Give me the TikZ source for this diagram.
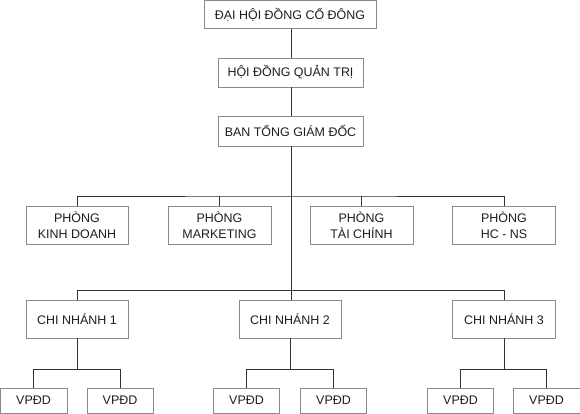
\documentclass[tikz,border=0pt]{standalone}
\usepackage{fontspec}
\setmainfont{Liberation Sans}
\definecolor{boxline}{HTML}{8A8A8A}
\definecolor{conline}{HTML}{333333}
\definecolor{txt}{HTML}{1E1E1E}
\tikzset{
  orgbox/.style={draw=boxline, line width=0.9bp, fill=white, text=txt, inner sep=0pt,
    align=center, font=\fontsize{12.5}{16.5}\selectfont},
  conn/.style={draw=conline, line width=0.9bp},
}
\begin{document}
\begin{tikzpicture}[x=1bp,y=-1bp]
\useasboundingbox (0,0) rectangle (580,413);
% top chain
\node[orgbox, minimum width=172bp, minimum height=28bp] (dh) at (290,14.5) {ĐẠI HỘI ĐỒNG CỔ ĐÔNG};
\node[orgbox, minimum width=145bp, minimum height=29bp] (hd) at (290.5,72.5) {HỘI ĐỒNG QUẢN TRỊ};
\node[orgbox, minimum width=145bp, minimum height=30bp] (ban) at (290.5,131) {BAN TỔNG GIÁM ĐỐC};
% departments
\node[orgbox, minimum width=102bp, minimum height=38bp] (p1) at (77,225) {PHÒNG\\KINH DOANH};
\node[orgbox, minimum width=103bp, minimum height=38bp] (p2) at (219.5,225) {PHÒNG\\MARKETING};
\node[orgbox, minimum width=103bp, minimum height=38bp] (p3) at (361.5,225) {PHÒNG\\TÀI CHÍNH};
\node[orgbox, minimum width=103bp, minimum height=38bp] (p4) at (504,225) {PHÒNG\\HC - NS};
% branches
\node[orgbox, minimum width=102bp, minimum height=38bp] (c1) at (77,319) {CHI NHÁNH 1};
\node[orgbox, minimum width=102bp, minimum height=38bp] (c2) at (290,319) {CHI NHÁNH 2};
\node[orgbox, minimum width=103bp, minimum height=38bp] (c3) at (504,319) {CHI NHÁNH 3};
% offices
\node[orgbox, minimum width=67bp, minimum height=25bp] (v11) at (33.5,400.5) {VPĐD};
\node[orgbox, minimum width=66bp, minimum height=25bp] (v12) at (120,400.5) {VPĐD};
\node[orgbox, minimum width=66bp, minimum height=25bp] (v21) at (246.5,400.5) {VPĐD};
\node[orgbox, minimum width=66bp, minimum height=25bp] (v22) at (333.5,400.5) {VPĐD};
\node[orgbox, minimum width=66bp, minimum height=25bp] (v31) at (460.5,400.5) {VPĐD};
\node[orgbox, minimum width=67bp, minimum height=25bp] (v32) at (546.5,400.5) {VPĐD};
% junction coordinates
\coordinate (jd) at (291,196);
\coordinate (jc) at (291,290);
% connectors
\draw[conn] (dh.south -| 291,0) -- (hd.north -| 291,0);
\draw[conn] (hd.south -| 291,0) -- (ban.north -| 291,0);
\draw[conn] (ban.south -| jc) -- (jc);
\draw[conn] (p1.north) |- (jd) -| (p4.north);
\draw[conn] (p2.north) -- (p2.north |- jd);
\draw[conn] (p3.north) -- (p3.north |- jd);
\draw[conn] (c1.north) |- (jc) -| (c3.north);
\draw[conn] (jc) -- (c2.north -| jc);
\draw[conn] (c1.south) -- ++(0,30.5) coordinate (k1);
\draw[conn] (v11.north) |- (k1) -| (v12.north);
\draw[conn] (c2.south) -- ++(0,30.5) coordinate (k2);
\draw[conn] (v21.north) |- (k2) -| (v22.north);
\draw[conn] (c3.south) -- ++(0,30.5) coordinate (k3);
\draw[conn] (v31.north) |- (k3) -| (v32.north);
\end{tikzpicture}
\end{document}
